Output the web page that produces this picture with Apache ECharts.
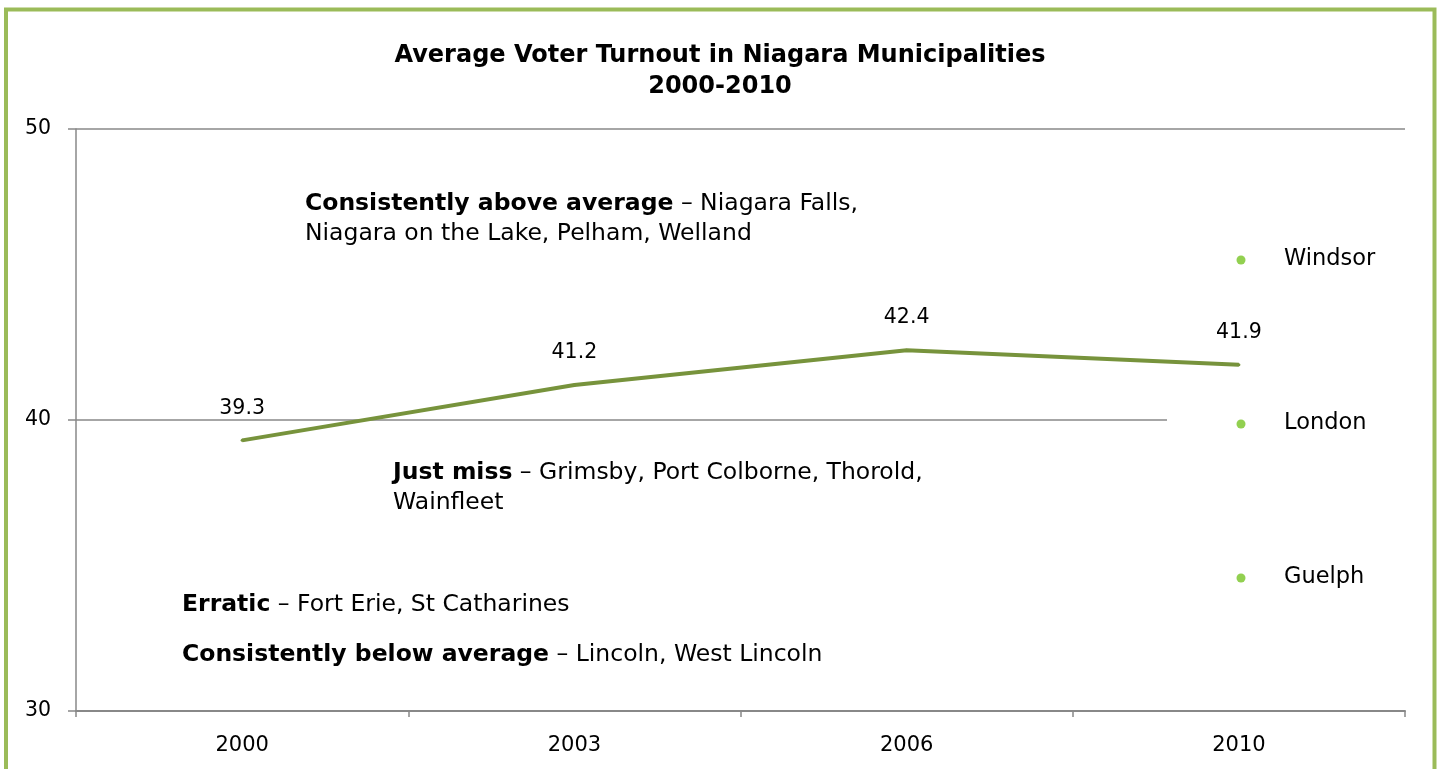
<!DOCTYPE html>
<html>
<head>
<meta charset="utf-8">
<script src="https://cdn.jsdelivr.net/npm/echarts@6/dist/echarts.min.js"></script>
<style>
html,body{margin:0;padding:0;background:#fff;}
#chart{width:1440px;height:769px;}
</style>
</head>
<body>
<div id="chart"></div>
<script>
const categories = ['2000', '2003', '2006', '2010'];
const turnout = [39.3, 41.2, 42.4, 41.9];
const yTicks = { min: 30, max: 50, interval: 10 };
const titleLines = ['Average Voter Turnout in Niagara Municipalities', '2000-2010'];
const comparisonCities = ['Windsor', 'London', 'Guelph'];
const notes = [
  { bold: 'Consistently above average', rest: ' \u2013 Niagara Falls,\nNiagara on the Lake, Pelham, Welland' },
  { bold: 'Just miss', rest: ' \u2013 Grimsby, Port Colborne, Thorold,\nWainfleet' },
  { bold: 'Erratic', rest: ' \u2013 Fort Erie, St Catharines' },
  { bold: 'Consistently below average', rest: ' \u2013 Lincoln, West Lincoln' }
];

const FONT = 'DejaVu Sans';
const chart = echarts.init(document.getElementById('chart'));

const notePos = [[305, 207], [393, 476], [182, 608], [182, 658]];
const cityPos = [260, 424, 578];

function noteText(n) {
  const parts = n.rest.split('\n');
  let t = '{b|' + n.bold + '}{r|' + parts[0] + '}';
  for (let i = 1; i < parts.length; i++) t += '\n{r|' + parts[i] + '}';
  return t;
}

const graphics = [
  { type: 'rect', z: 100, silent: true,
    shape: { x: 6, y: 9.5, width: 1428.5, height: 800 },
    style: { fill: 'none', stroke: '#9BBB59', lineWidth: 4 } },
  { type: 'rect', z: 3, silent: true,
    shape: { x: 1167, y: 410, width: 245, height: 22 },
    style: { fill: '#ffffff' } }
];
notes.forEach((n, i) => {
  graphics.push({
    type: 'text', z: 10, left: notePos[i][0], top: notePos[i][1] - 15,
    style: {
      text: noteText(n),
      rich: {
        b: { fontFamily: FONT, fontSize: 23.5, fontWeight: 'bold', fill: '#000', lineHeight: 30 },
        r: { fontFamily: FONT, fontSize: 23.5, fill: '#000', lineHeight: 30 }
      }
    }
  });
});
comparisonCities.forEach((c, i) => {
  graphics.push({ type: 'circle', z: 10, shape: { cx: 1241, cy: cityPos[i], r: 4.5 }, style: { fill: '#92D050' } });
  graphics.push({ type: 'text', z: 10, left: 1284, top: cityPos[i] - 14,
    style: { text: c, fontFamily: FONT, fontSize: 22.5, fill: '#000', lineHeight: 26 } });
});

chart.setOption({
  animation: false,
  backgroundColor: '#fff',
  title: {
    text: titleLines.join('\n'),
    left: 'center', top: 35,
    textStyle: { fontFamily: FONT, fontSize: 24, fontWeight: 'bold', color: '#000', lineHeight: 31 }
  },
  grid: { left: 76, right: 35, top: 129, bottom: 58, containLabel: false },
  xAxis: {
    type: 'category',
    data: categories,
    boundaryGap: true,
    axisLine: { show: true, lineStyle: { color: '#888', width: 2 } },
    axisTick: { show: true, length: 6, interval: 0, lineStyle: { color: '#888', width: 1.5 } },
    axisLabel: { fontFamily: FONT, fontSize: 21, color: '#000', margin: 24 },
    splitLine: { show: false }
  },
  yAxis: {
    type: 'value',
    min: yTicks.min, max: yTicks.max, interval: yTicks.interval,
    axisLine: { show: true, lineStyle: { color: '#888', width: 1.5 } },
    axisTick: { show: true, length: 8, lineStyle: { color: '#888', width: 1.5 } },
    axisLabel: { fontFamily: FONT, fontSize: 20.5, color: '#000', margin: 25 },
    splitLine: { show: true, lineStyle: { color: '#888', width: 1.5 } }
  },
  series: [{
    type: 'line',
    data: turnout,
    z: 5,
    symbol: 'circle',
    symbolSize: 3,
    showSymbol: true,
    itemStyle: { color: '#77933C' },
    lineStyle: { color: '#77933C', width: 4 },
    label: { show: true, position: 'top', distance: 20, fontFamily: FONT, fontSize: 20.5, color: '#000' },
    labelLayout: { hideOverlap: false }
  }],
  graphic: graphics
});
</script>
</body>
</html>
